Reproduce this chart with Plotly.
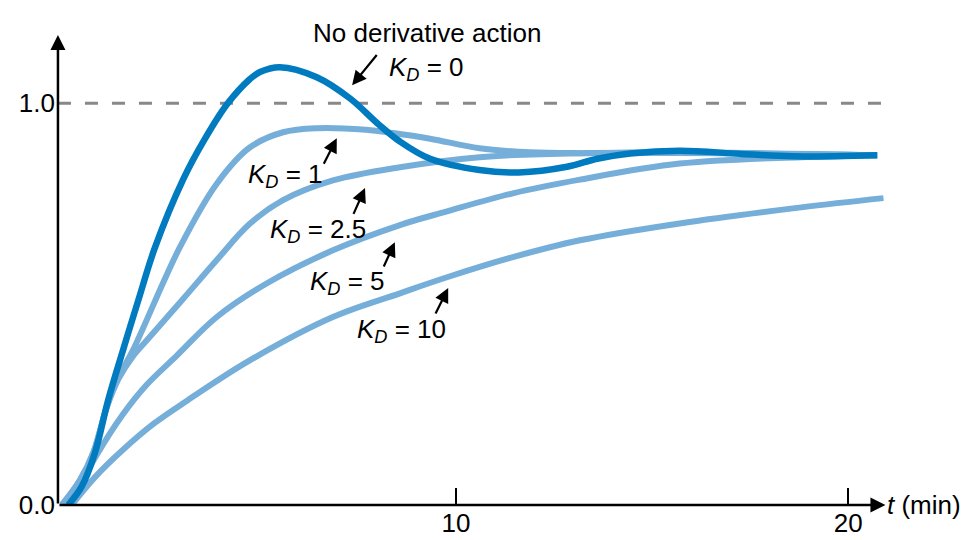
import plotly.graph_objects as go

# ---- data ----
t_kd0 = [0.11, 0.45, 0.79, 1.13, 1.51, 1.90, 2.32, 3.04, 3.60, 4.18, 4.74, 5.00, 5.51, 6.45, 7.30, 8.00, 8.57, 9.34, 10.60, 11.60, 12.83, 13.60, 14.44, 15.70, 17.27, 18.57, 20.74]
pv_kd0 = [0.00, 0.045, 0.129, 0.261, 0.386, 0.510, 0.640, 0.810, 0.912, 1.000, 1.060, 1.078, 1.090, 1.065, 1.012, 0.950, 0.905, 0.862, 0.834, 0.828, 0.842, 0.862, 0.875, 0.882, 0.874, 0.868, 0.871]

t_kd1 = [-0.05, 0.40, 0.75, 1.10, 1.40, 1.76, 2.96, 3.90, 4.74, 5.59, 6.45, 7.70, 8.40, 9.34, 10.60, 11.90, 13.16, 15.70, 20.74]
pv_kd1 = [0.00, 0.060, 0.130, 0.245, 0.320, 0.385, 0.642, 0.800, 0.890, 0.928, 0.938, 0.934, 0.926, 0.912, 0.888, 0.878, 0.876, 0.878, 0.871]

t_kd25 = [-0.05, 0.40, 0.75, 1.10, 1.40, 1.76, 2.19, 3.04, 3.90, 4.74, 5.59, 6.86, 8.57, 10.60, 13.16, 20.74]
pv_kd25 = [0.00, 0.060, 0.130, 0.245, 0.315, 0.370, 0.418, 0.513, 0.610, 0.700, 0.759, 0.808, 0.841, 0.866, 0.876, 0.871]

t_kd5 = [0.15, 0.80, 1.48, 2.10, 2.88, 3.90, 5.18, 6.86, 8.57, 9.77, 11.45, 13.16, 15.70, 18.80, 20.74]
pv_kd5 = [0.00, 0.118, 0.222, 0.298, 0.372, 0.468, 0.552, 0.634, 0.697, 0.731, 0.776, 0.810, 0.850, 0.866, 0.871]

t_kd10 = [0.20, 0.80, 1.48, 2.30, 3.16, 4.74, 6.86, 8.57, 9.77, 11.45, 13.16, 15.70, 18.80, 20.90]
pv_kd10 = [0.00, 0.070, 0.135, 0.203, 0.261, 0.360, 0.468, 0.527, 0.567, 0.617, 0.659, 0.701, 0.741, 0.764]

x_tick_vals = [10, 20]
x_tick_text = ["10", "20"]
y_tick_vals = [0, 1]
y_tick_text = ["0.0", "1.0"]
setpoint = 1.0

kd_labels = ["<i>K</i><sub><i>D</i></sub> = 1",
             "<i>K</i><sub><i>D</i></sub> = 2.5",
             "<i>K</i><sub><i>D</i></sub> = 5",
             "<i>K</i><sub><i>D</i></sub> = 10"]

# ---- styling ----
DARK = "#007BC0"
LIGHT = "#76AEDA"
FONT = "Arial, Liberation Sans, Helvetica, sans-serif"
FS = 26

fig = go.Figure()

light_series = [(t_kd1, pv_kd1), (t_kd25, pv_kd25), (t_kd5, pv_kd5), (t_kd10, pv_kd10)]
for tt, pp in light_series:
    fig.add_trace(go.Scatter(x=tt, y=pp, mode="lines",
                             line=dict(color=LIGHT, width=6, shape="spline", smoothing=1.0),
                             hoverinfo="skip", showlegend=False))
fig.add_trace(go.Scatter(x=t_kd0, y=pv_kd0, mode="lines",
                         line=dict(color=DARK, width=6.5, shape="spline", smoothing=1.0),
                         hoverinfo="skip", showlegend=False))

# setpoint dashed line
fig.add_shape(type="line", x0=-0.15, x1=20.95, y0=setpoint, y1=setpoint,
              xref="x", yref="y", layer="below",
              line=dict(color="#888888", width=3, dash="13px,14px"))

ann = []
# axis arrows
ann.append(dict(x=20.95, y=0, ax=-0.15, ay=0, xref="x", yref="y", axref="x", ayref="y",
                text="", showarrow=True, arrowhead=2, arrowsize=1.2, arrowwidth=2.5,
                arrowcolor="black", standoff=0))
ann.append(dict(x=-0.15, y=1.17, ax=-0.15, ay=0, xref="x", yref="y", axref="x", ayref="y",
                text="", showarrow=True, arrowhead=2, arrowsize=1.2, arrowwidth=2.5,
                arrowcolor="black", standoff=0))
# axis titles
ann.append(dict(x=-0.1, y=1.211, xref="x", yref="y", text="<i>PV</i>", showarrow=False,
                font=dict(family=FONT, size=FS, color="black"), xanchor="center", yanchor="middle"))
ann.append(dict(x=21.0, y=0.0, xref="x", yref="y", text="<i>t</i> (min)", showarrow=False,
                font=dict(family=FONT, size=FS, color="black"), xanchor="left", yanchor="middle",
                xshift=-2))

# headings
ann.append(dict(x=9.26, y=1.174, xref="x", yref="y", text="No derivative action", showarrow=False,
                font=dict(family=FONT, size=FS, color="black")))
ann.append(dict(x=9.26, y=1.087, xref="x", yref="y", text="<i>K</i><sub><i>D</i></sub> = 0",
                showarrow=False, font=dict(family=FONT, size=FS, color="black")))
ann.append(dict(x=7.35, y=1.045, ax=8.01, ay=1.124, xref="x", yref="y", axref="x", ayref="y",
                text="", showarrow=True, arrowhead=2, arrowsize=1.3, arrowwidth=2.2,
                arrowcolor="black", standoff=0))

label_pos = [(5.66, 0.821), (6.48, 0.684), (7.24, 0.555), (8.60, 0.435)]
arrow_tail = [(6.61, 0.846), (7.37, 0.721), (8.14, 0.590), (9.46, 0.473)]
arrow_head = [(6.96, 0.913), (7.68, 0.789), (8.44, 0.654), (9.80, 0.540)]
for lab, (lx, ly), (tx, ty), (hx, hy) in zip(kd_labels, label_pos, arrow_tail, arrow_head):
    ann.append(dict(x=lx, y=ly, xref="x", yref="y", text=lab, showarrow=False,
                    font=dict(family=FONT, size=FS, color="black")))
    ann.append(dict(x=hx, y=hy, ax=tx, ay=ty, xref="x", yref="y", axref="x", ayref="y",
                    text="", showarrow=True, arrowhead=2, arrowsize=1.3, arrowwidth=2.2,
                    arrowcolor="black", standoff=0))

# the page places the figure 8px from the top-left corner, so the figure is
# sized 961x532 to fill the 969x540 window
fig.update_layout(
    width=961, height=532,
    margin=dict(l=48, r=62, t=15, b=35, autoexpand=False),
    paper_bgcolor="white", plot_bgcolor="white",
    annotations=ann,
    xaxis=dict(range=[-0.2, 21.5], showgrid=False, zeroline=False, showline=False,
               automargin=False,
               tickmode="array", tickvals=x_tick_vals, ticktext=x_tick_text,
               ticks="inside", ticklen=17, tickwidth=2, tickcolor="black",
               tickfont=dict(family=FONT, size=FS, color="black")),
    yaxis=dict(range=[0, 1.2], showgrid=False, zeroline=False, showline=False,
               automargin=False,
               tickmode="array", tickvals=y_tick_vals, ticktext=y_tick_text,
               ticks="", tickfont=dict(family=FONT, size=FS, color="black")),
)

fig.write_html("out.html")
